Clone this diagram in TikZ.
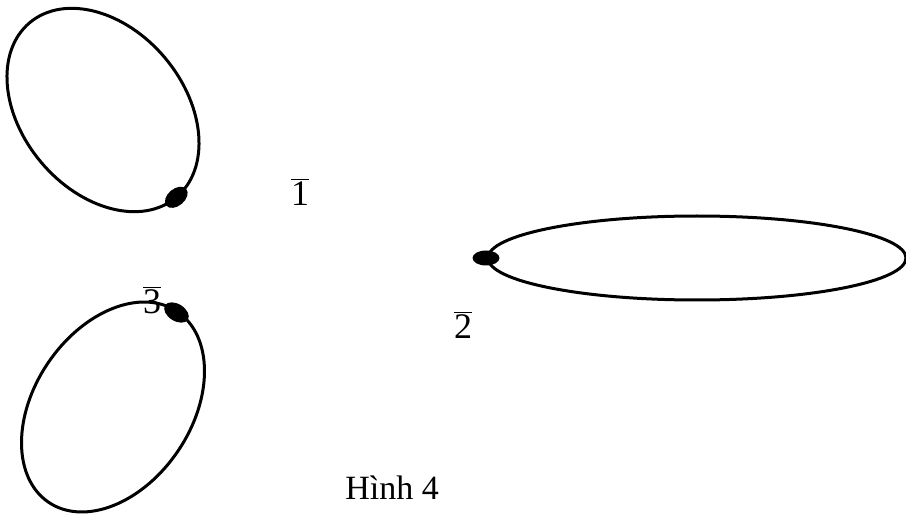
\documentclass[tikz,border=0pt]{standalone}
\usepackage{fontspec}
\setmainfont{Liberation Serif}
\newcommand\barnum[1]{$\overline{\mbox{#1}}$}
\begin{document}
\begin{tikzpicture}[x=0.5pt,y=0.5pt,
  loop/.style={draw=black,line width=1.5pt},
  knot/.style={fill=black,draw=none},
  lbl/.style={font=\fontsize{18}{20}\selectfont,inner sep=0pt},
  caption/.style={font=\fontsize{17}{19}\selectfont,inner sep=0pt}]
\useasboundingbox (0,0) rectangle (906,515);
% labels
\node[lbl] (l1) at (300,323) {\barnum{1}};
\node[lbl] (l2) at (463,190) {\barnum{2}};
\node[lbl] (l3) at (152,215) {\barnum{3}};
\node[caption] (cap) at (392,27) {Hình 4};
% three loops, each with a marked point on it
\draw[loop] (103,405) ellipse[x radius=114,y radius=81,rotate=-50];
\draw[loop] (113,108) ellipse[x radius=115,y radius=78.5,rotate=56];
\draw[loop] (697,257) ellipse[x radius=209,y radius=42];
\coordinate (p1) at (176.3,317.7);
\coordinate (p3) at (176.5,202.5);
\coordinate (p2) at (486,257);
\fill[knot] (p1) ellipse[x radius=13,y radius=8.5,rotate=40];
\fill[knot] (p3) ellipse[x radius=13.5,y radius=8.5,rotate=-32];
\fill[knot] (p2) ellipse[x radius=13.5,y radius=7.5];
\end{tikzpicture}
\end{document}
